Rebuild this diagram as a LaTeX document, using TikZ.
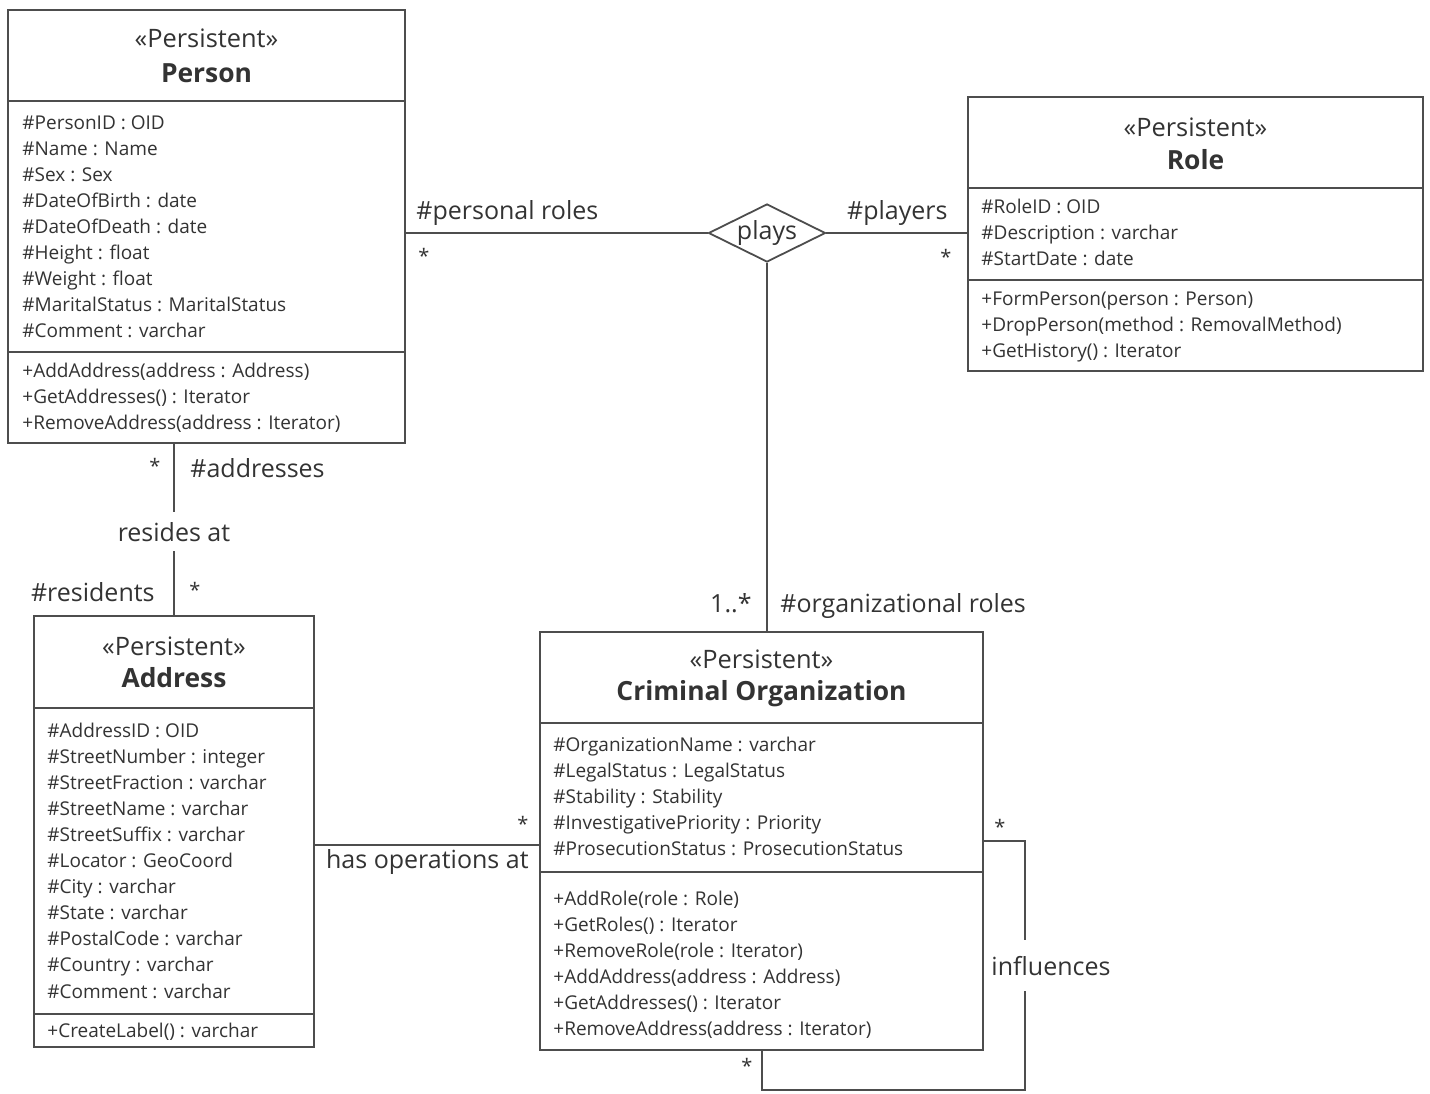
\documentclass[tikz,border=0pt]{standalone}
\usepackage{fontspec}
\setmainfont{Open Sans}
\usetikzlibrary{shapes.geometric,fit}
\definecolor{ink}{HTML}{333333}
\definecolor{rule}{HTML}{4D4D4D}

% one row per member, 26.1 units apart, starting at a given baseline
\newcommand\memberlist[4]{%
  \foreach \t [count=\i from 0] in {#4} {
    \node[member] (#3\i) at (#1, #2+26.1*\i) {\t};
  }%
}

\begin{document}
\begin{tikzpicture}[x=0.5pt,y=-0.5pt,
  box/.style={draw=rule, line width=0.9pt, inner sep=0pt, fit={#1}},
  sep/.style={draw=rule, line width=0.9pt},
  member/.style={anchor=base west, inner sep=0pt, text=ink, font=\fontsize{9.5}{12}\selectfont},
  stereo/.style={anchor=base, inner sep=0pt, text=ink, font=\fontsize{12.7}{14}\selectfont},
  cname/.style={anchor=base, inner sep=0pt, text=ink, font=\fontsize{13.2}{15}\selectfont\bfseries},
  rolename/.style={inner sep=0pt, text=ink, font=\fontsize{12.5}{15}\selectfont},
  mult/.style={inner sep=0pt, text=ink, font=\fontsize{10}{12}\selectfont},
  assoc/.style={draw=rule, line width=0.9pt},
]
\fill[white] (0,0) rectangle (1430,1093);
\useasboundingbox (0,0) rectangle (1430,1093);

% ---------- Person ----------
\node[box={(8,10) (405,443)}] (person) {};
\draw[sep] (person.west |- 0,101) -- (person.east |- 0,101);
\draw[sep] (person.west |- 0,352) -- (person.east |- 0,352);
\node[stereo] (person-st) at (206.5,47) {«Persistent»};
\node[cname] (person-nm) at (206.5,82) {Person};
\memberlist{22}{129}{person-a}{{\#PersonID : OID},{\#Name : Name},{\#Sex : Sex},{\#DateOfBirth : date},{\#DateOfDeath : date},{\#Height : float},{\#Weight : float},{\#MaritalStatus : MaritalStatus},{\#Comment : varchar}}
\memberlist{22}{377}{person-o}{{+AddAddress(address : Address)},{+GetAddresses() : Iterator},{+RemoveAddress(address : Iterator)}}

% ---------- Role ----------
\node[box={(968,97) (1423,371)}] (role) {};
\draw[sep] (role.west |- 0,188) -- (role.east |- 0,188);
\draw[sep] (role.west |- 0,280) -- (role.east |- 0,280);
\node[stereo] (role-st) at (1195.5,136) {«Persistent»};
\node[cname] (role-nm) at (1195.5,169) {Role};
\memberlist{981}{213}{role-a}{{\#RoleID : OID},{\#Description : varchar},{\#StartDate : date}}
\memberlist{981}{305}{role-o}{{+FormPerson(person : Person)},{+DropPerson(method : RemovalMethod)},{+GetHistory() : Iterator}}

% ---------- Address ----------
\node[box={(34,616) (314,1047)}] (address) {};
\draw[sep] (address.west |- 0,708) -- (address.east |- 0,708);
\draw[sep] (address.west |- 0,1014) -- (address.east |- 0,1014);
\node[stereo] (address-st) at (174,655) {«Persistent»};
\node[cname] (address-nm) at (174,687) {Address};
\memberlist{47}{737}{address-a}{{\#AddressID : OID},{\#StreetNumber : integer},{\#StreetFraction : varchar},{\#StreetName : varchar},{\#StreetSuffix : varchar},{\#Locator : GeoCoord},{\#City : varchar},{\#State : varchar},{\#PostalCode : varchar},{\#Country : varchar},{\#Comment : varchar}}
\memberlist{47}{1037}{address-o}{{+CreateLabel() : varchar}}

% ---------- Criminal Organization ----------
\node[box={(540,632) (983,1050)}] (crim) {};
\draw[sep] (crim.west |- 0,723) -- (crim.east |- 0,723);
\draw[sep] (crim.west |- 0,872) -- (crim.east |- 0,872);
\node[stereo] (crim-st) at (761.5,668) {«Persistent»};
\node[cname] (crim-nm) at (761.5,700) {Criminal Organization};
\memberlist{553}{751}{crim-a}{{\#OrganizationName : varchar},{\#LegalStatus : LegalStatus},{\#Stability : Stability},{\#InvestigativePriority : Priority},{\#ProsecutionStatus : ProsecutionStatus}}
\memberlist{553}{905}{crim-o}{{+AddRole(role : Role)},{+GetRoles() : Iterator},{+RemoveRole(role : Iterator)},{+AddAddress(address : Address)},{+GetAddresses() : Iterator},{+RemoveAddress(address : Iterator)}}

% ---------- plays (n-ary association) ----------
\node[draw=rule, line width=0.9pt, diamond, aspect=2, minimum width=58.5pt, minimum height=29pt,
      inner sep=0pt, text=ink, font=\fontsize{12.5}{15}\selectfont] (plays) at (767,233) {plays};
\draw[assoc] (plays.west) -- (plays.west -| person.east);
\draw[assoc] (plays.east) -- (plays.east -| role.west);
\draw[assoc] (plays.south) -- (plays.south |- crim.north);
\node[rolename, anchor=base west] (pr-role) at (416,219) {\#personal roles};
\node[mult] (pr-mult) at (424,256) {*};
\node[rolename, anchor=base east] (pl-role) at (948,219) {\#players};
\node[mult] (pl-mult) at (946,257) {*};
\node[rolename, anchor=base east] (or-mult) at (752,612) {1..*};
\node[rolename, anchor=base west] (or-role) at (780,612) {\#organizational roles};

% ---------- resides at ----------
\coordinate (res-x) at (174,0);
\draw[assoc] (res-x |- person.south) -- (res-x |- address.north);
\node[rolename, anchor=base, fill=white, inner xsep=2pt, inner ysep=5pt] (resides) at (174,541) {resides at};
\node[mult] (ad-mult) at (155,466) {*};
\node[rolename, anchor=base west] (ad-role) at (190,477) {\#addresses};
\node[rolename, anchor=base east] (rs-role) at (155,601) {\#residents};
\node[mult] (rs-mult) at (195,590) {*};

% ---------- has operations at ----------
\coordinate (ops-y) at (0,845);
\draw[assoc] (address.east |- ops-y) -- (crim.west |- ops-y);
\node[mult] (ops-mult) at (523,824) {*};
\node[rolename, anchor=base east] (ops) at (529,868) {has operations at};

% ---------- influences (self association) ----------
\coordinate (loop-a) at (1025,841);
\coordinate (loop-b) at (762,1090);
\draw[assoc] (crim.east |- loop-a) -- (loop-a) |- (loop-b) -- (loop-b |- crim.south);
\node[rolename, anchor=base, fill=white, inner xsep=1pt, inner ysep=8pt] (infl) at (1051,975) {influences};
\node[mult] (in-mult1) at (1000,827) {*};
\node[mult] (in-mult2) at (747,1066) {*};
\end{tikzpicture}
\end{document}
